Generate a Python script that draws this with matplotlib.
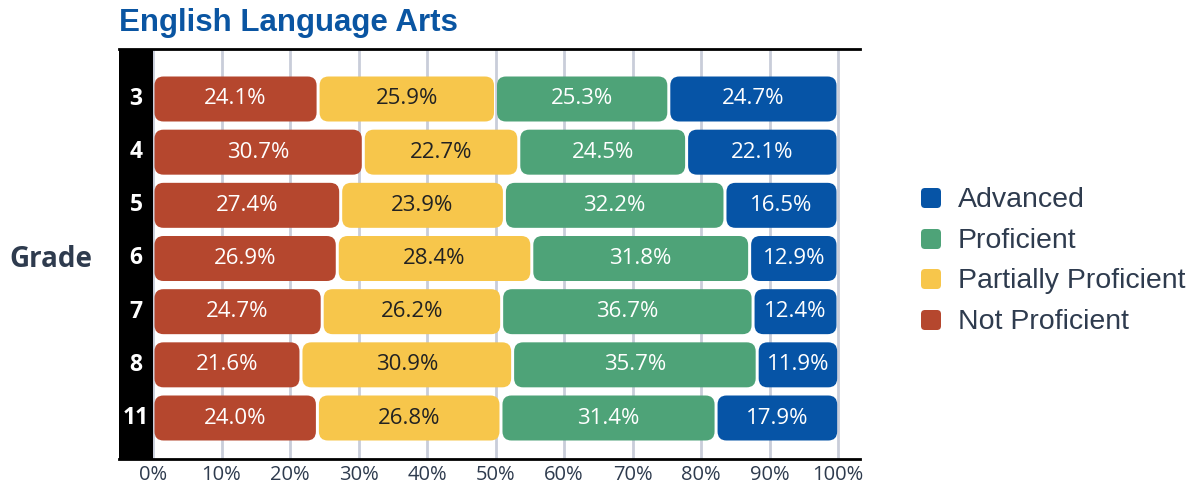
import matplotlib
matplotlib.use("Agg")
import matplotlib.pyplot as plt
from matplotlib.patches import FancyBboxPatch, Rectangle

grades = ["3", "4", "5", "6", "7", "8", "11"]
not_prof = [24.1, 30.7, 27.4, 26.9, 24.7, 21.6, 24.0]
partial = [25.9, 22.7, 23.9, 28.4, 26.2, 30.9, 26.8]
proficient = [25.3, 24.5, 32.2, 31.8, 36.7, 35.7, 31.4]
advanced = [24.7, 22.1, 16.5, 12.9, 12.4, 11.9, 17.9]
series_names = ["Not Proficient", "Partially Proficient", "Proficient", "Advanced"]
series_vals = [not_prof, partial, proficient, advanced]
colors = ["#B5472E", "#F7C64B", "#4EA378", "#0654A6"]
text_colors = ["white", "#222222", "white", "white"]
xticks = [0, 10, 20, 30, 40, 50, 60, 70, 80, 90, 100]

W, H = 1201, 486
fig = plt.figure(figsize=(W / 100, H / 100), dpi=100)
ax = fig.add_axes([119 / W, 1 - 459 / H, (860 - 119) / W, (459 - 49) / H])

px_x = 100 / (838 - 153)          # data units per pixel (x)
xmin = -(153 - 119) * px_x
xmax = 100 + (860 - 838) * px_x
n = len(grades)
row_px = (418 - 99) / (n - 1)
px_y = 1 / row_px
ytop = -(99 - 49) * px_y
ybot = (n - 1) + (459 - 418) * px_y
ax.set_xlim(xmin, xmax)
ax.set_ylim(ybot, ytop)

# grid
for t in xticks:
    ax.axvline(t, color="#C9CDD9", lw=2, zorder=0)

# black strip
ax.add_patch(Rectangle((xmin, ybot), -xmin, ytop - ybot, facecolor="black", edgecolor="none", zorder=1))

bar_h = 45 * px_y
gap = 1.5 * px_x
r = 9 * px_x
aspect = px_y / px_x
for i, g in enumerate(grades):
    left = 0.0
    for k, vals in enumerate(series_vals):
        v = vals[i]
        x0 = left + gap
        w = v - 2 * gap
        p = FancyBboxPatch((x0, i - bar_h / 2), w, bar_h,
                           boxstyle=f"round,pad=0,rounding_size={r}",
                           mutation_aspect=aspect,
                           facecolor=colors[k], edgecolor="none", zorder=2)
        ax.add_patch(p)
        ax.text(left + v / 2, i, f"{v:.1f}%", ha="center", va="center",
                color=text_colors[k], fontsize=16, family="Open Sans", zorder=3)
        left += v
    ax.text(xmin / 2, i, g, ha="center", va="center", color="white",
            fontsize=16.5, fontweight="bold", family="Open Sans", zorder=3)

for s in ["left", "right"]:
    ax.spines[s].set_visible(False)
ax.spines["top"].set_linewidth(2)
ax.spines["bottom"].set_linewidth(2)
ax.set_yticks([])
ax.set_xticks(xticks)
ax.set_xticklabels([f"{t}%" for t in xticks], family="Open Sans", fontsize=14.5, color="#2E3B4E")
ax.tick_params(axis="x", length=0, pad=4)

# overlay in pixel coords
ov = fig.add_axes([0, 0, 1, 1])
ov.set_xlim(0, W)
ov.set_ylim(H, 0)
ov.axis("off")
ov.patch.set_alpha(0)
ov.text(119, 23, "English Language Arts", fontsize=22.5, fontweight="bold",
        family="Liberation Sans", color="#0A55A2", va="center", ha="left")
ov.text(51, 259, "Grade", fontsize=20, fontweight="bold", family="Open Sans",
        color="#2E3B4E", va="center", ha="center")

leg_y = [198, 239, 279, 320]
leg_order = [3, 2, 1, 0]
for yy, k in zip(leg_y, leg_order):
    ov.add_patch(FancyBboxPatch((921, yy - 10), 20, 20,
                                boxstyle="round,pad=0,rounding_size=4",
                                facecolor=colors[k], edgecolor="none"))
    ov.text(958, yy + 2, series_names[k], fontsize=20.5, family="Liberation Sans",
            color="#2E3B4E", va="center", ha="left")

fig.savefig("out.png", dpi=100)
